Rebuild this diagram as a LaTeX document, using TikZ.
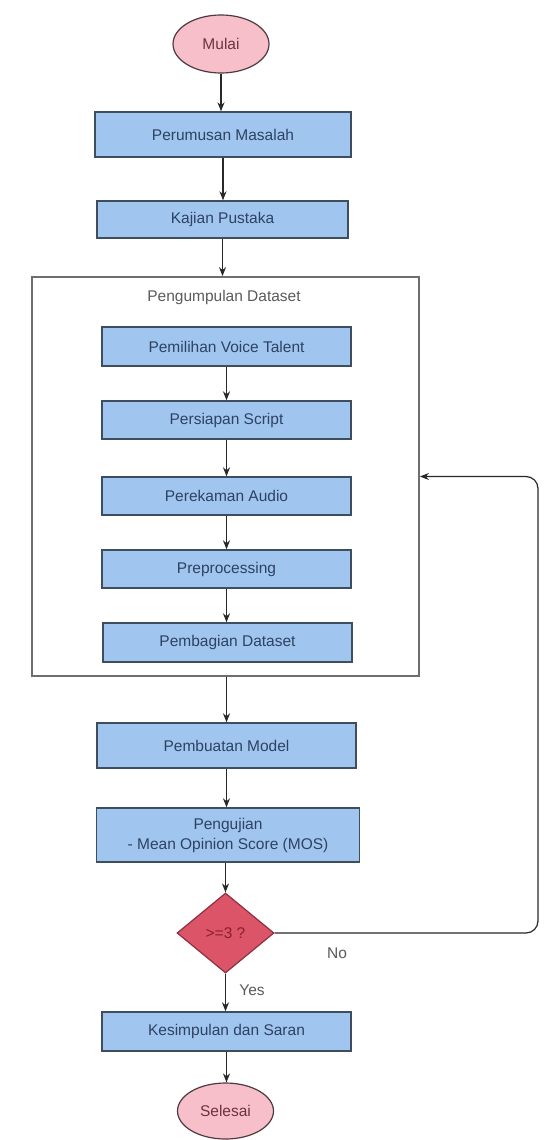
\documentclass[tikz,border=0pt]{standalone}
\usepackage{fontspec}
\setmainfont{Liberation Sans}
\usetikzlibrary{arrows.meta, shapes.geometric}

\definecolor{boxfill}{HTML}{A0C5EE}
\definecolor{boxline}{HTML}{3F4E5F}
\definecolor{boxtext}{HTML}{2E4263}
\definecolor{termfill}{HTML}{F7BFCA}
\definecolor{termline}{HTML}{4E3A40}
\definecolor{decfill}{HTML}{DC5468}
\definecolor{decline}{HTML}{8E3040}
\definecolor{grouptext}{HTML}{5A5A5A}

\begin{document}
\begin{tikzpicture}[x=1pt, y=-1pt,
    every node/.style={font=\fontsize{15.5}{20}\selectfont},
    stepbox/.style={draw=boxline, line width=1.4pt, fill=boxfill, text=boxtext,
      inner sep=0pt, align=center},
    term/.style={ellipse, draw=termline, line width=1.2pt, fill=termfill,
      text={rgb,255:red,110;green,50;blue,65}, inner sep=0pt,
      minimum width=96, minimum height=58},
    decide/.style={diamond, draw=decline, line width=1.2pt, fill=decfill,
      text={rgb,255:red,140;green,30;blue,50}, inner sep=0pt,
      minimum width=97, minimum height=80},
    flow/.style={draw={rgb,255:red,40;green,40;blue,40}, line width=1.2pt,
      -{Stealth[length=9pt, width=7pt]}}]
  \useasboundingbox (0,0) rectangle (549,1140);
  % start
  \node[term] (mulai) at (221,44) {Mulai};
  \node[stepbox, minimum width=256, minimum height=45] (rumus) at (223,134.5) {Perumusan Masalah};
  \node[stepbox, minimum width=251, minimum height=37] (kajian) at (222.5,219.5) {Kajian Pustaka};
  % dataset group
  \node[draw={rgb,255:red,110;green,110;blue,110}, line width=1.8pt,
        minimum width=387, minimum height=399, inner sep=0pt] (group) at (225.5,476.5) {};
  \node[text=grouptext] (grouplabel) at (224,297) {Pengumpulan Dataset};
  \node[stepbox, minimum width=249, minimum height=39] (voice) at (226.5,346.5) {Pemilihan Voice Talent};
  \node[stepbox, minimum width=249, minimum height=38] (script) at (226.5,420) {Persiapan Script};
  \node[stepbox, minimum width=249, minimum height=38] (rekam) at (226.5,496) {Perekaman Audio};
  \node[stepbox, minimum width=249, minimum height=38] (prepro) at (226.5,569) {Preprocessing};
  \node[stepbox, minimum width=249, minimum height=39] (bagi) at (227.5,642.5) {Pembagian Dataset};
  % model and test
  \node[stepbox, minimum width=259, minimum height=45] (model) at (226.5,745.5) {Pembuatan Model};
  \node[stepbox, minimum width=263, minimum height=54] (uji) at (228,835) {Pengujian\\- Mean Opinion Score (MOS)};
  \node[decide] (cek) at (225.5,933) {>=3 ?};
  \node[stepbox, minimum width=249, minimum height=39] (simpul) at (226.5,1031.5) {Kesimpulan dan Saran};
  \node[term, minimum height=56] (selesai) at (225.5,1111) {Selesai};
  % labels
  \node[text=grouptext] (no) at (337,953) {No};
  \node[text=grouptext] (yes) at (252,990) {Yes};
  % arrows
  \draw[flow] (mulai.south) -- (mulai.south |- rumus.north);
  \draw[flow] (rumus.south) -- (rumus.south |- kajian.north);
  \draw[flow] (kajian.south) -- (kajian.south |- group.north);
  \draw[flow] (voice.south) -- (voice.south |- script.north);
  \draw[flow] (script.south) -- (script.south |- rekam.north);
  \draw[flow] (rekam.south) -- (rekam.south |- prepro.north);
  \draw[flow] (prepro.south) -- (prepro.south |- bagi.north);
  \draw[flow] (model.north |- group.south) -- (model.north);
  \draw[flow] (model.south) -- (model.south |- uji.north);
  \draw[flow] (cek.north |- uji.south) -- (cek.north);
  \draw[flow] (cek.south) -- (cek.south |- simpul.north);
  \draw[flow] (simpul.south) -- (simpul.south |- selesai.north);
  % loop back when score below 3
  \coordinate (back) at (538,476.5);
  \draw[flow, rounded corners=12pt] (cek.east) -| (back) -- (group.east);
\end{tikzpicture}
\end{document}
